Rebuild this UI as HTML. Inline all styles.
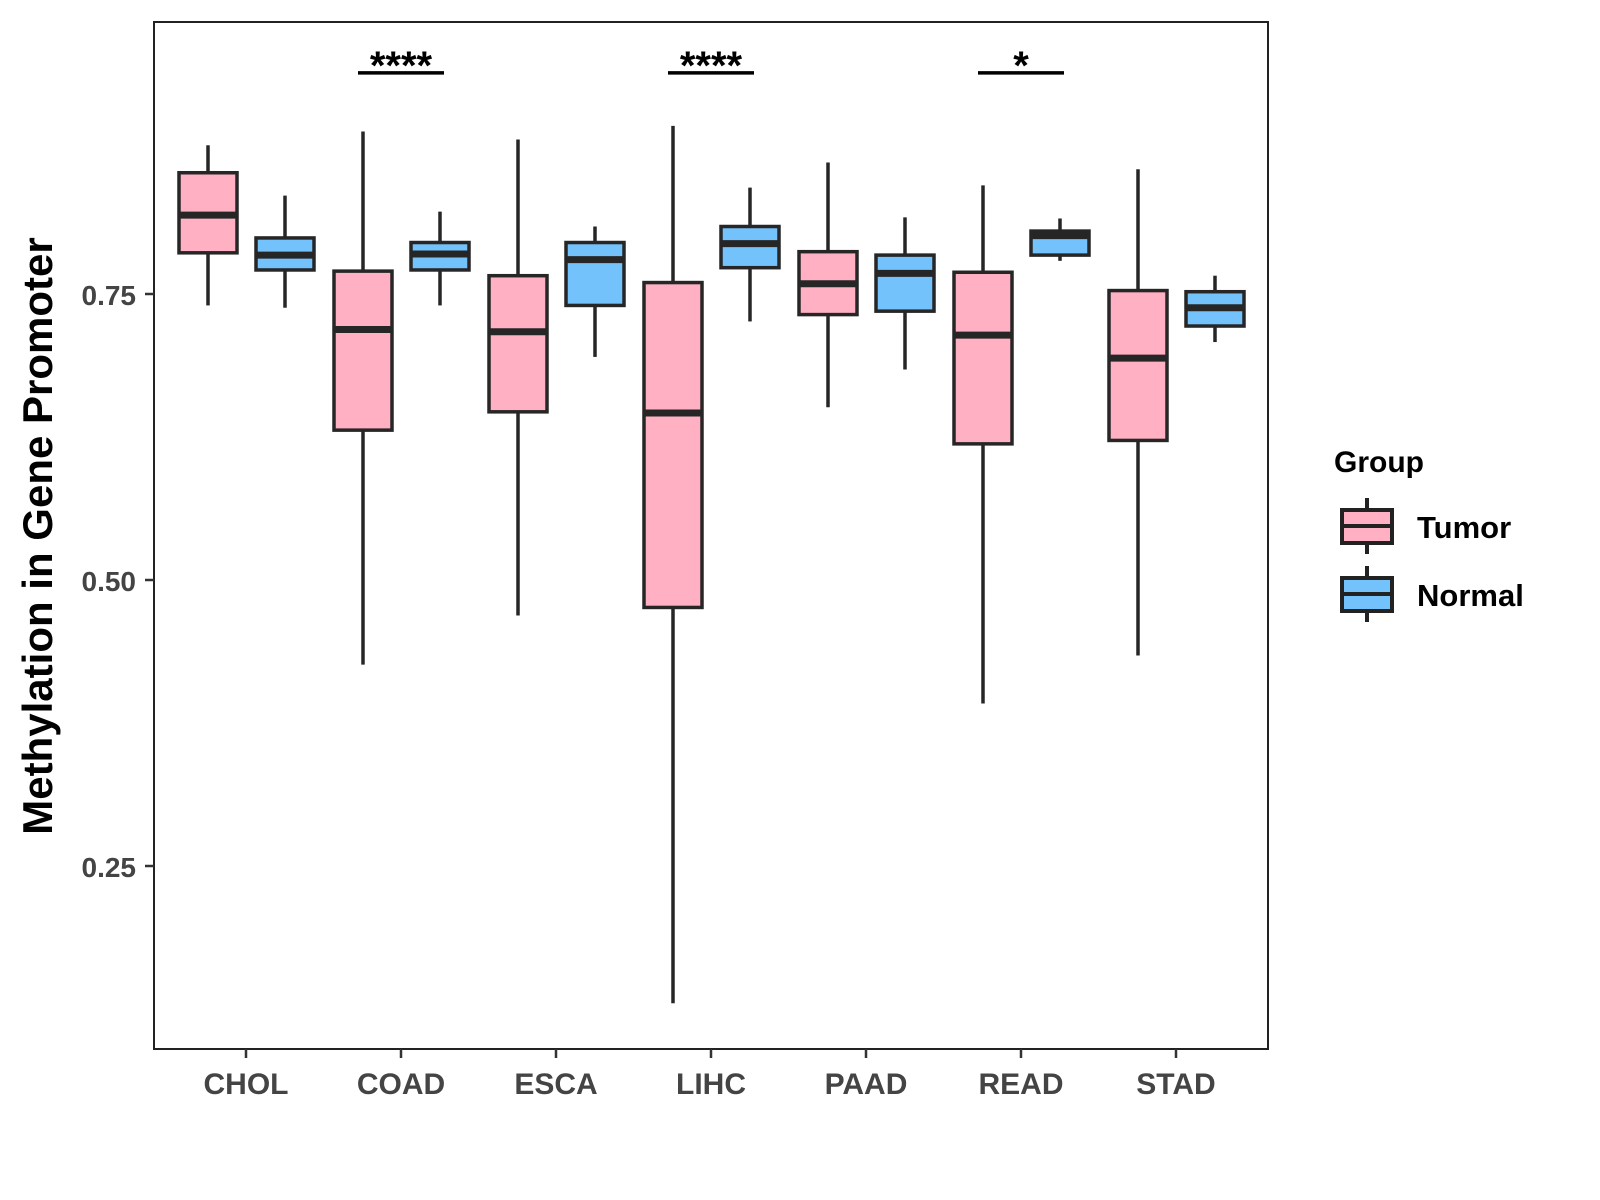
<!DOCTYPE html>
<html><head><meta charset="utf-8"><style>
body{margin:0;background:#fff}
svg{display:block;font-family:"Liberation Sans",Arial,sans-serif;font-weight:bold}
</style></head><body>
<svg id="chart" width="1600" height="1200" viewBox="0 0 1600 1200">
<rect x="154" y="22" width="1114" height="1027" fill="#fff" stroke="#222" stroke-width="2"/>
<g id="marks"></g>
<g id="axes"></g>
<text x="52" y="536" transform="rotate(-90 52 536)" text-anchor="middle" font-size="42" fill="#000">Methylation in Gene Promoter</text>
<g>
<text x="1334" y="472" font-size="30" fill="#000">Group</text>
<g>
<line x1="1367" y1="498" x2="1367" y2="554" stroke="#222" stroke-width="4"/>
<rect x="1342" y="510" width="50" height="33" fill="#FFB0C2" stroke="#222" stroke-width="4"/>
<line x1="1342" y1="526" x2="1392" y2="526" stroke="#222" stroke-width="4"/>
<text x="1417" y="538" font-size="31" fill="#000">Tumor</text></g>
<g>
<line x1="1367" y1="566" x2="1367" y2="622" stroke="#222" stroke-width="4"/>
<rect x="1342" y="578" width="50" height="33" fill="#74C2FB" stroke="#222" stroke-width="4"/>
<line x1="1342" y1="594" x2="1392" y2="594" stroke="#222" stroke-width="4"/>
<text x="1417" y="606" font-size="31" fill="#000">Normal</text></g>
</g>
</svg>
<script>
const categories=["CHOL","COAD","ESCA","LIHC","PAAD","READ","STAD"];
// [whiskerLow, q1, median, q3, whiskerHigh]
const tumorStats=[[0.740,0.786,0.819,0.856,0.880],[0.426,0.631,0.719,0.770,0.892],[0.469,0.647,0.717,0.766,0.885],[0.130,0.476,0.646,0.760,0.897],[0.651,0.732,0.759,0.787,0.865],[0.392,0.619,0.714,0.769,0.845],[0.434,0.622,0.694,0.753,0.859]];
const normalStats=[[0.738,0.771,0.784,0.799,0.836],[0.740,0.771,0.785,0.795,0.822],[0.695,0.740,0.780,0.795,0.809],[0.726,0.773,0.794,0.809,0.843],[0.684,0.735,0.768,0.784,0.817],[0.779,0.784,0.801,0.805,0.816],[0.708,0.722,0.738,0.752,0.766]];
const yTicks=[0.25,0.50,0.75];
const yTickLabels=["0.25","0.50","0.75"];
const sigCategories=["COAD","LIHC","READ"];
const sigLabels=["****","****","*"];
const sigLevel=[0.945];

const NS="http://www.w3.org/2000/svg";
const y=v=>294+(0.75-v)*1144;
const x=i=>246+i*155;
function mk(tag,attrs,parent){const e=document.createElementNS(NS,tag);for(const k in attrs)e.setAttribute(k,attrs[k]);parent.appendChild(e);return e;}
const marks=document.getElementById('marks'),axes=document.getElementById('axes');
function box(cx,s,fill,name){
  const g=mk('g',{},marks);
  
  
  const a={stroke:'#262626','stroke-width':3.5};
  mk('line',Object.assign({x1:cx,x2:cx,y1:y(s[4]),y2:y(s[3])},a),g);
  mk('line',Object.assign({x1:cx,x2:cx,y1:y(s[1]),y2:y(s[0])},a),g);
  mk('rect',Object.assign({x:cx-29,width:58,y:y(s[3]),height:y(s[1])-y(s[3]),fill:fill},a),g);
  mk('line',{x1:cx-29,x2:cx+29,y1:y(s[2]),y2:y(s[2]),stroke:'#262626','stroke-width':7},g);
}
categories.forEach((c,i)=>{
  box(x(i)-38,tumorStats[i],'#FFB0C2','box-'+c.toLowerCase()+'-tumor');
  box(x(i)+39,normalStats[i],'#74C2FB','box-'+c.toLowerCase()+'-normal');
  const t=mk('line',{x1:x(i),x2:x(i),y1:1049,y2:1058,stroke:'#333','stroke-width':2.5},axes);
  
  
  const l=mk('text',{x:x(i),y:1094,'text-anchor':'middle','font-size':30,fill:'#444'},axes);
  
  
  l.textContent=c;
});
yTicks.forEach((v,i)=>{
  const t=mk('line',{x1:145,x2:154,y1:y(v),y2:y(v),stroke:'#333','stroke-width':2.5},axes);
  
  
  const l=mk('text',{x:136,y:y(v)+11,'text-anchor':'end','font-size':28,fill:'#444'},axes);
  
  
  l.textContent=yTickLabels[i];
});
sigCategories.forEach((c,k)=>{
  const i=categories.indexOf(c);
  const ln=mk('line',{x1:x(i)-43,x2:x(i)+43,y1:y(sigLevel[0])+2,y2:y(sigLevel[0])+2,stroke:'#000','stroke-width':3.5},marks);
  
  
  const t=mk('text',{x:x(i),y:y(sigLevel[0])+8,'text-anchor':'middle','font-size':40,fill:'#000'},marks);
  
  
  t.textContent=sigLabels[k];
});
</script>
</body></html>
